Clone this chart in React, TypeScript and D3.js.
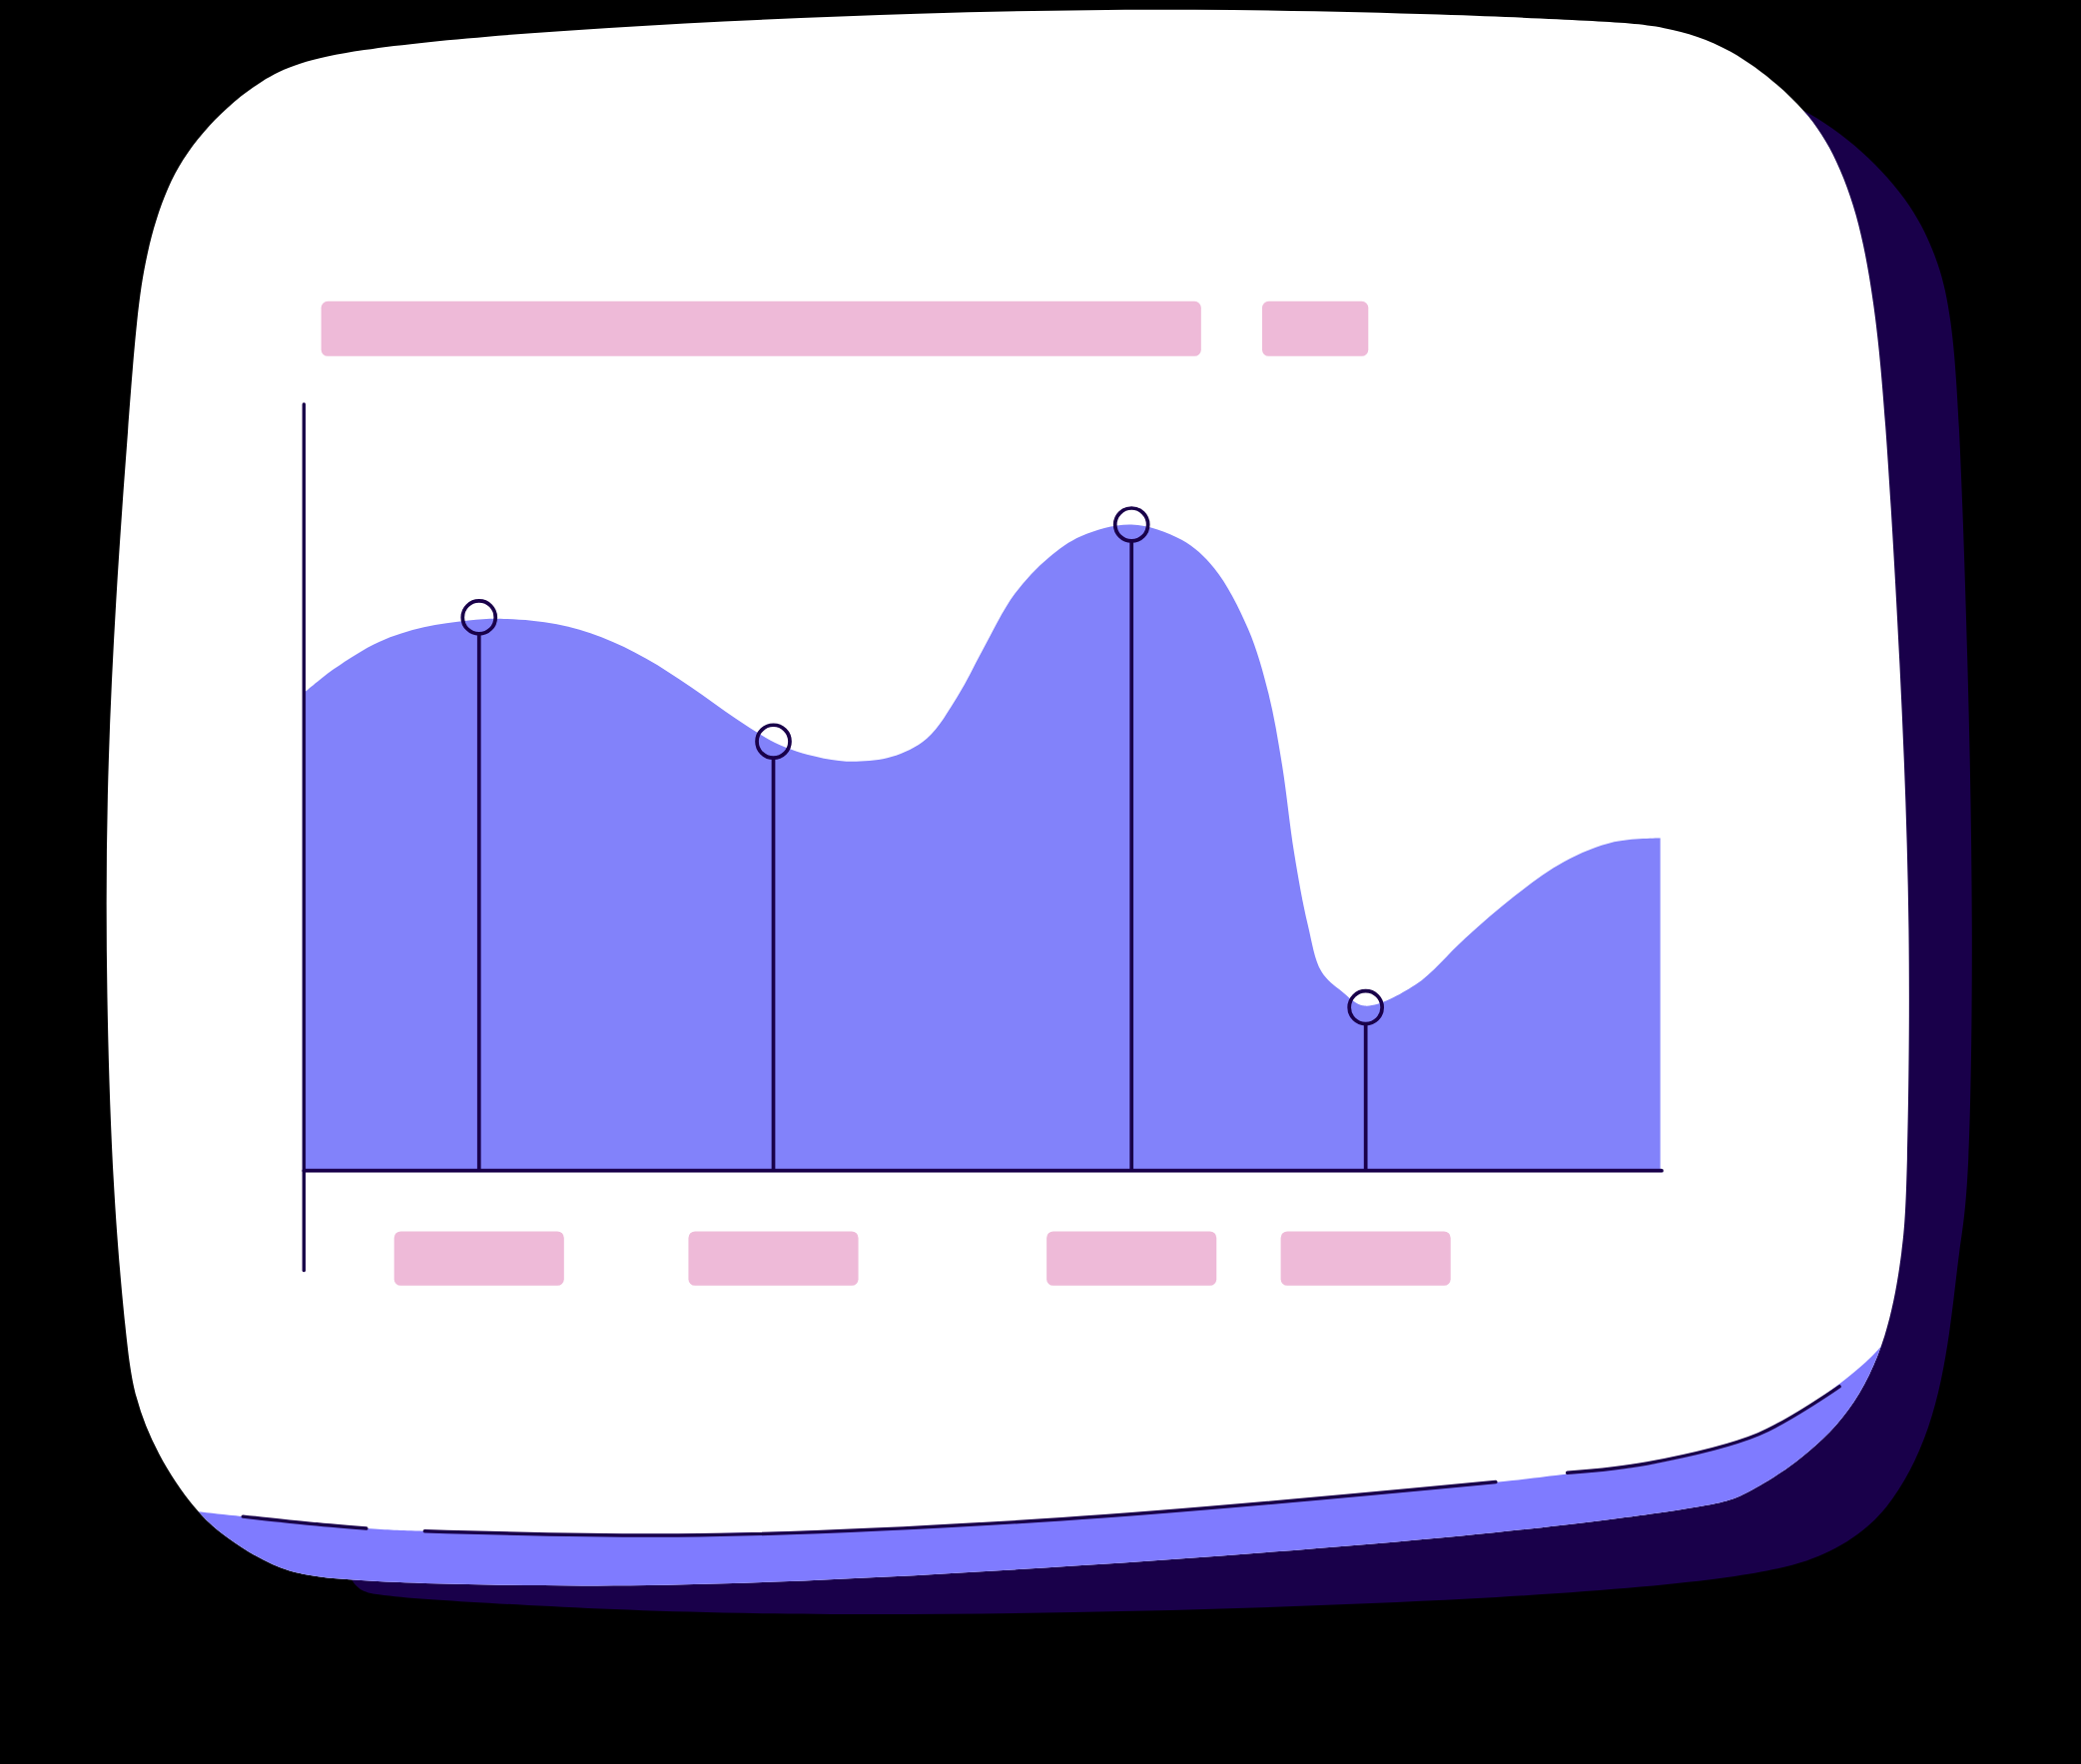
import * as d3 from 'd3';
import { useEffect } from 'react';

// area series (x position 0-100 along the axis, value 0-100)
const areaX = [0, 2.2, 5.5, 8.8, 12.1, 14.7, 18.6, 21.9, 25.2, 28.5, 31.8, 35.1, 38.3, 40.7, 43.3, 45.9, 48.2, 50.0, 52.4, 54.9, 57.3, 61.0, 64.7, 67.1, 69.6, 71.1, 72.1, 73.0, 74.0, 75.0, 76.5, 78.2, 81.9, 85.6, 89.3, 92.9, 96.6, 100];
const areaY = [62.4, 65.5, 69.0, 70.9, 71.8, 72.0, 71.3, 69.6, 66.8, 63.1, 59.0, 55.5, 53.8, 53.4, 54.0, 56.4, 62.0, 67.9, 75.3, 80.0, 82.8, 84.3, 82.3, 78.6, 70.7, 62.3, 53.0, 41.4, 32.1, 26.0, 23.4, 21.5, 24.2, 30.3, 35.9, 40.3, 42.9, 43.4];

// lollipop markers
const categories = ['A', 'B', 'C', 'D'];
const stemX = [12.87, 34.58, 61.0, 78.27];
const stemY = [72.2, 56.0, 84.3, 21.3];

const NAVY = '#19004a';
const PURPLE = '#8282fa';
const STRIP = '#7f7bff';
const PINK = '#eebad8';

// card decoration outlines (viewBox units)
const cardPts: [number, number][] = [
    [250, 37], [451, 20], [700, 9], [900, 6], [1100, 11], [1204, 16], [1254, 19], [1304, 35],
    [1354, 75], [1379, 108], [1400, 160], [1412, 226], [1420, 300], [1432, 500], [1440, 700],
    [1437, 900], [1434, 940], [1423, 1008], [1395, 1066], [1353, 1104], [1311, 1129],
    [1291, 1135], [1129, 1157], [800, 1182], [527, 1196], [363, 1195], [242, 1191], [205, 1181],
    [170, 1159], [147, 1139], [118, 1096], [101, 1053], [95, 1010], [85, 900], [80, 750],
    [80, 600], [87, 450], [97, 316], [103, 238], [110, 191], [125, 140], [150, 100], [196, 58]
];
const shadowPts: [number, number][] = [
    [1300, 60], [1359, 80], [1404, 113], [1442, 155], [1462, 200], [1470, 238], [1476, 301],
    [1483, 500], [1487, 700], [1484, 900], [1476, 940], [1470, 1003], [1456, 1078], [1423, 1141],
    [1381, 1171], [1325, 1189], [1128, 1206], [800, 1217], [527, 1217], [363, 1208], [277, 1203],
    [242, 1191], [300, 600]
];
const stripEdge: [number, number][] = [
    [110, 1133], [147, 1139], [183, 1143], [276, 1152], [320, 1154], [527, 1156], [800, 1145],
    [1129, 1117], [1181, 1111], [1241, 1104], [1325, 1081], [1386, 1043], [1423, 1008], [1450, 960]
];
const dashSegs: [number, number][][] = [
    [[183, 1143], [230, 1148], [276, 1152]],
    [[320, 1154], [527, 1157], [800, 1145], [1127, 1117]],
    [[1181, 1110], [1241, 1103], [1325, 1081], [1386, 1045]]
];

const App = () => {
    useEffect(() => {
        document.body.style.margin = '0';
        document.body.style.background = '#000';
    }, []);

    // Scales
    const xScale = d3.scaleLinear().domain([0, 100]).range([229.5, 1251]);
    const yScale = d3.scaleLinear().domain([0, 100]).range([882.3, 304.7]);

    const area = d3
        .area<number>()
        .x((_, i) => xScale(areaX[i]))
        .y0(yScale(0))
        .y1((d) => yScale(d))
        .curve(d3.curveCatmullRom.alpha(0.5));

    const closed = d3.line().curve(d3.curveBasisClosed);
    const open = d3.line().curve(d3.curveCatmullRom.alpha(0.5));
    const stripPath = open(stripEdge) + 'L1460,1300L100,1300Z';

    const r = 12.4;
    const labelW = 128;

    return (
        <svg
            width={2084}
            height={1767}
            viewBox="0 0 1568 1329.5"
            style={{ display: 'block', position: 'absolute', left: 0, top: 0, background: '#000' }}
        >
            <defs>
                <clipPath id="card-clip">
                    <path d={closed(cardPts)!} />
                </clipPath>
            </defs>
            <rect x={0} y={0} width={1568} height={1329.5} fill="#000" />
            <path d={closed(shadowPts)!} fill={NAVY} />
            <path d={closed(cardPts)!} fill="#fff" />
            <path d={stripPath} fill={STRIP} clipPath="url(#card-clip)" />
            {dashSegs.map((seg, i) => (
                <path key={i} d={open(seg)!} fill="none" stroke={NAVY} strokeWidth={2.6} strokeLinecap="round" />
            ))}

            {/* title placeholders */}
            <rect x={242} y={227} width={663} height={41.5} rx={5} fill={PINK} />
            <rect x={951} y={227} width={80} height={41.5} rx={5} fill={PINK} />

            {/* area */}
            <path d={area(areaY)!} fill={PURPLE} />

            {/* axes */}
            <line x1={xScale(0) - 0.5} x2={xScale(0) - 0.5} y1={yScale(100)} y2={957.5} stroke={NAVY} strokeWidth={2.6} strokeLinecap="round" />
            <line x1={xScale(0) - 0.5} x2={xScale(100) + 1} y1={yScale(0)} y2={yScale(0)} stroke={NAVY} strokeWidth={2.8} strokeLinecap="round" />

            {/* lollipops */}
            {categories.map((c, i) => (
                <g key={c}>
                    <line
                        x1={xScale(stemX[i])}
                        x2={xScale(stemX[i])}
                        y1={yScale(0)}
                        y2={yScale(stemY[i]) + r}
                        stroke={NAVY}
                        strokeWidth={2.8}
                    />
                    <circle cx={xScale(stemX[i])} cy={yScale(stemY[i])} r={r} fill="none" stroke={NAVY} strokeWidth={2.8} />
                    <rect
                        x={xScale(stemX[i]) - labelW / 2}
                        y={928}
                        width={labelW}
                        height={41}
                        rx={5}
                        fill={PINK}
                    />
                </g>
            ))}
        </svg>
    );
};

export default App;
